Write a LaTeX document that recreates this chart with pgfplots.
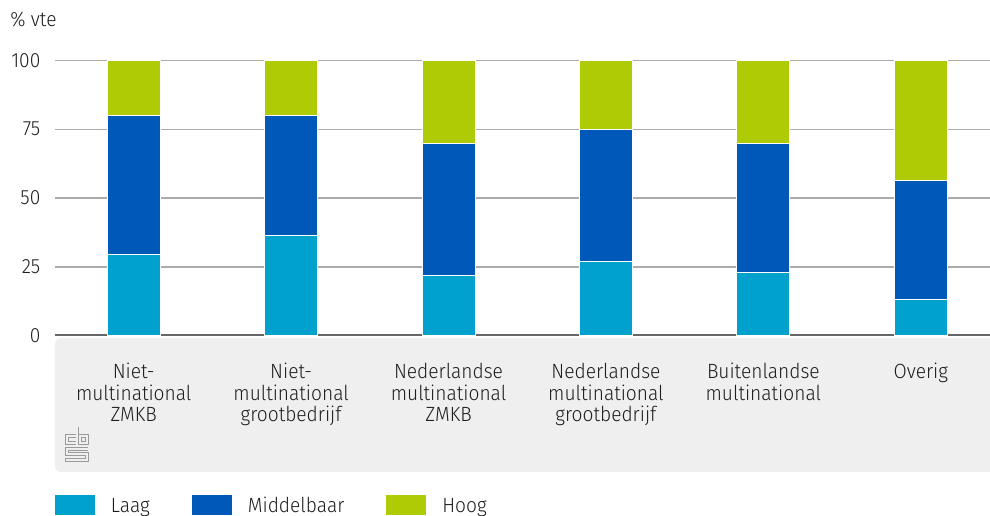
\documentclass[border=0pt]{standalone}
\usepackage{fontspec}
\setmainfont{Fira Sans}[UprightFont={* Light}, FakeStretch=0.93]
\usepackage{pgfplots}
\pgfplotsset{compat=1.18}
\definecolor{laag}{HTML}{00A1CD}
\definecolor{midd}{HTML}{0058B8}
\definecolor{hoog}{HTML}{AFCB05}
\definecolor{panel}{HTML}{EFEFEF}
\definecolor{basec}{HTML}{666666}
\definecolor{gridc}{HTML}{ABABAB}
\definecolor{txt}{HTML}{1E1E1E}
\definecolor{logoc}{HTML}{9A9A9A}
\newcommand\fl{\rule{0pt}{9pt}}
\begin{document}
\begin{tikzpicture}[font=\fontsize{10.3}{10.8}\selectfont, text=txt]
\useasboundingbox (-27.5pt,-89.75pt) rectangle (467.5pt,167.75pt);
\fill[panel, rounded corners=3pt] (0,-1.25pt) rectangle (475pt,-68.25pt);
% CBS logo (approximation)
\begin{scope}[shift={(5pt,-45.75pt)}, x=0.5pt, y=-0.5pt, draw=logoc, line width=0.45pt]
\draw (11,7) -- (0,7) -- (0,17) -- (11,17);
\draw (11,10) -- (3,10) -- (3,14) -- (11,14);
\draw (13,0) -- (13,17) -- (23,17) -- (23,7) -- (13,7);
\draw (16,10) rectangle (20,14);
\draw (23,20) -- (0,20) -- (0,28) -- (20,28) -- (20,31) -- (0,31) -- (0,34) -- (23,34) -- (23,25) -- (3,25) -- (3,23) -- (23,23);
\end{scope}
\node[anchor=base west, inner sep=0pt] at (-22.5pt,154.4pt) {\% vte};
\begin{axis}[
  at={(0,0)}, anchor=south west, scale only axis,
  width=467.5pt, height=137.5pt,
  xmin=-0.5, xmax=5.44, ymin=0, ymax=100,
  ybar stacked, bar width=26.5pt,
  axis line style={draw=none},
  major tick length=0pt,
  ytick={0,25,50,75,100},
  xtick={0,1,2,3,4,5},
  xticklabels={{\fl Niet-\\multinational\\ZMKB},{\fl Niet-\\multinational\\grootbedrijf},{\fl Nederlandse\\multinational\\ZMKB},{\fl Nederlandse\\multinational\\grootbedrijf},{\fl Buitenlandse\\multinational},{\fl Overig}},
  xticklabel style={align=center, anchor=north, inner sep=0pt, yshift=-12.25pt, font=\fontsize{10.3}{10.8}\selectfont},
  yticklabel style={anchor=east, inner sep=0pt, xshift=-7.15pt, font=\fontsize{10.3}{10.8}\selectfont},
  /pgf/number format/assume math mode=true,
  ymajorgrids, grid style={gridc, line width=0.75pt},
  legend columns=3,
  legend style={at={(axis description cs:0,-0.58)}, anchor=north west, draw=none, fill=none, inner sep=0pt, outer sep=0pt,
    nodes={inner sep=0pt, text height=7.5pt, text depth=2.5pt, font=\fontsize{10.3}{10.8}\selectfont},
    /tikz/every odd column/.append style={column sep=8pt},
    /tikz/every even column/.append style={column sep=21pt}},
  legend image code/.code={\fill[#1,draw=none] (0pt,-4pt) rectangle (20pt,6pt);},
]
\addplot[fill=laag, draw=white, line width=0.4pt] coordinates {(0,29.5) (1,36.5) (2,22) (3,27) (4,23) (5,13)};
\addlegendentry{Laag}
\addplot[fill=midd, draw=white, line width=0.4pt] coordinates {(0,50.5) (1,43.5) (2,48) (3,48) (4,47) (5,43.5)};
\addlegendentry{Middelbaar}
\addplot[fill=hoog, draw=white, line width=0.4pt] coordinates {(0,20) (1,20) (2,30) (3,25) (4,30) (5,43.5)};
\addlegendentry{Hoog}
\draw[basec, line width=2pt] (axis cs:-0.5,0) -- (axis cs:5.44,0);
\end{axis}
\end{tikzpicture}
\end{document}
